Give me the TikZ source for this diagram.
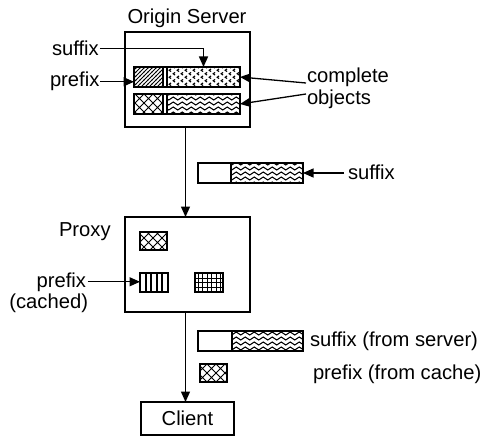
\documentclass[tikz,border=0pt]{standalone}
\usepackage{fontspec}
\setmainfont{Liberation Sans}
\usetikzlibrary{patterns,arrows.meta}

% fill patterns for the object pieces
\pgfdeclarepatternformonly{diagcross}{\pgfqpoint{-1pt}{-1pt}}{\pgfqpoint{10pt}{10pt}}{\pgfqpoint{9pt}{9pt}}{%
  \pgfsetlinewidth{1pt}%
  \pgfpathmoveto{\pgfqpoint{0pt}{0pt}}\pgfpathlineto{\pgfqpoint{9pt}{9pt}}%
  \pgfpathmoveto{\pgfqpoint{0pt}{9pt}}\pgfpathlineto{\pgfqpoint{9pt}{0pt}}%
  \pgfusepath{stroke}}
\pgfdeclarepatternformonly{slant}{\pgfqpoint{-1pt}{-1pt}}{\pgfqpoint{5pt}{5pt}}{\pgfqpoint{4pt}{4pt}}{%
  \pgfsetlinewidth{1pt}%
  \pgfpathmoveto{\pgfqpoint{-0.2pt}{-0.2pt}}\pgfpathlineto{\pgfqpoint{4.2pt}{4.2pt}}%
  \pgfusepath{stroke}}
\pgfdeclarepatternformonly{chevron}{\pgfqpoint{-1pt}{-1pt}}{\pgfqpoint{9pt}{8pt}}{\pgfqpoint{8pt}{7pt}}{%
  \pgfsetlinewidth{1.1pt}%
  \pgfpathmoveto{\pgfqpoint{3pt}{0.4pt}}\pgfpathlineto{\pgfqpoint{1.2pt}{1.75pt}}\pgfpathlineto{\pgfqpoint{3pt}{3.1pt}}%
  \pgfpathmoveto{\pgfqpoint{7pt}{3.9pt}}\pgfpathlineto{\pgfqpoint{5.2pt}{5.25pt}}\pgfpathlineto{\pgfqpoint{7pt}{6.6pt}}%
  \pgfusepath{stroke}}
\pgfdeclarepatternformonly{wavy}{\pgfqpoint{-1pt}{-1pt}}{\pgfqpoint{10pt}{6pt}}{\pgfqpoint{9pt}{5pt}}{%
  \pgfsetlinewidth{1pt}%
  \pgfpathmoveto{\pgfqpoint{0pt}{2.5pt}}%
  \pgfpathsine{\pgfqpoint{2.25pt}{1.5pt}}%
  \pgfpathcosine{\pgfqpoint{2.25pt}{-1.5pt}}%
  \pgfpathsine{\pgfqpoint{2.25pt}{-1.5pt}}%
  \pgfpathcosine{\pgfqpoint{2.25pt}{1.5pt}}%
  \pgfusepath{stroke}}
\pgfdeclarepatternformonly{bars}{\pgfqpoint{-1pt}{-1pt}}{\pgfqpoint{6.4pt}{3pt}}{\pgfqpoint{5.4pt}{2pt}}{%
  \pgfsetlinewidth{1.8pt}%
  \pgfpathmoveto{\pgfqpoint{0pt}{-0.5pt}}\pgfpathlineto{\pgfqpoint{0pt}{2.5pt}}%
  \pgfusepath{stroke}}
\pgfdeclarepatternformonly{gridpat}{\pgfqpoint{-1pt}{-1pt}}{\pgfqpoint{5.5pt}{5.5pt}}{\pgfqpoint{4.5pt}{4.5pt}}{%
  \pgfsetlinewidth{1pt}%
  \pgfpathmoveto{\pgfqpoint{0pt}{-0.5pt}}\pgfpathlineto{\pgfqpoint{0pt}{5pt}}%
  \pgfpathmoveto{\pgfqpoint{-0.5pt}{0pt}}\pgfpathlineto{\pgfqpoint{5pt}{0pt}}%
  \pgfusepath{stroke}}

\tikzset{
  txt/.style={font=\fontsize{20.2}{24}\selectfont, inner sep=0pt, outer sep=0pt},
  box/.style={draw, line width=1.5pt, inner sep=0pt, outer sep=0pt},
  piece/.style={draw, line width=1.9pt, inner sep=0pt, outer sep=0pt},
  arr/.style={line width=1.3pt, -{Triangle[length=10.5pt,width=9pt]}},
}

\begin{document}
\begin{tikzpicture}[x=1pt, y=-1pt]
\useasboundingbox (0,0) rectangle (482,436);

% ---- origin server ----
\node[box, minimum width=125pt, minimum height=95pt] (origin) at (187.5,79.5) {};
\node[txt, anchor=base] (originlbl) at (187,24) {Origin Server};

\node[piece, pattern=slant,   minimum width=29pt, minimum height=20pt] (p1) at (148.5,77) {};
\node[piece, pattern=chevron, minimum width=73pt, minimum height=20pt] (s1) at (203.5,77) {};
\draw[line width=1.9pt] (p1.north west) rectangle (s1.south east);

\node[piece, pattern=diagcross, minimum width=29pt, minimum height=20pt] (p2) at (148.5,104) {};
\node[piece, pattern=wavy,      minimum width=73pt, minimum height=20pt] (s2) at (203.5,104) {};
\draw[line width=1.9pt] (p2.north west) rectangle (s2.south east);

\node[txt, anchor=base west, inner xsep=1pt] (sfxlbl) at (51,56) {suffix};
\node[txt, anchor=base west, inner xsep=1pt] (pfxlbl) at (49,87) {prefix};
\draw[arr] (sfxlbl.east) -| (s1.north);
\draw[arr] (pfxlbl.east) -- (pfxlbl.east -| p1.west);

\node[txt, anchor=base west] (complete) at (307,82) {complete};
\node[txt, anchor=base west] (objects) at (307,104) {objects};
\coordinate (c1) at (306,83);
\coordinate (c2) at (306,94);
\draw[arr] (c1) -- (s1.east);
\draw[arr] (c2) -- (s2.east);

% ---- suffix on its way to the proxy ----
\node[piece, minimum width=33pt, minimum height=20pt] (mw) at (214.5,173) {};
\node[piece, pattern=wavy, minimum width=72pt, minimum height=20pt] (mwv) at (267,173) {};
\node[txt, anchor=base west, inner xsep=4pt] (msfx) at (344,179) {suffix};
\draw[arr] (mwv.east -| msfx.west) -- (mwv.east);

% ---- proxy ----
\node[box, minimum width=125pt, minimum height=95pt] (proxy) at (187.5,264.5) {};
\node[txt, anchor=base west] (proxylbl) at (59,236) {Proxy};
\node[piece, pattern=diagcross, minimum width=27pt, minimum height=18pt] (cx1) at (153.5,241) {};
\node[piece, pattern=bars,      minimum width=28pt, minimum height=19pt] (vl) at (154,282.5) {};
\node[piece, pattern=gridpat,   minimum width=28pt, minimum height=19pt] (gr) at (209,282.5) {};
\node[txt, anchor=base east, inner xsep=1.5pt] (cpfx) at (87.5,287) {prefix};
\node[txt, anchor=base east] (cached) at (88,308) {(cached)};
\draw[arr] (cpfx.east) -- (cpfx.east -| vl.west);

\draw[arr] ([xshift=-2pt]origin.south) -- ([xshift=-2pt]proxy.north);

% ---- delivery to the client ----
\node[piece, minimum width=34pt, minimum height=20pt] (lw) at (215,341) {};
\node[piece, pattern=wavy, minimum width=71pt, minimum height=20pt] (lwv) at (267.5,341) {};
\node[txt, anchor=base west] (fromsrv) at (310,346) {suffix (from server)};
\node[piece, pattern=diagcross, minimum width=27pt, minimum height=18pt] (cx2) at (213.5,373) {};
\node[txt, anchor=base west] (fromcache) at (313,379) {prefix (from cache)};

\node[box, txt, draw, line width=1.5pt, minimum width=93pt, minimum height=33pt] (client) at (187.5,418.5) {Client};
\draw[arr] ([xshift=-2pt]proxy.south) -- ([xshift=-2pt]client.north);
\end{tikzpicture}
\end{document}
